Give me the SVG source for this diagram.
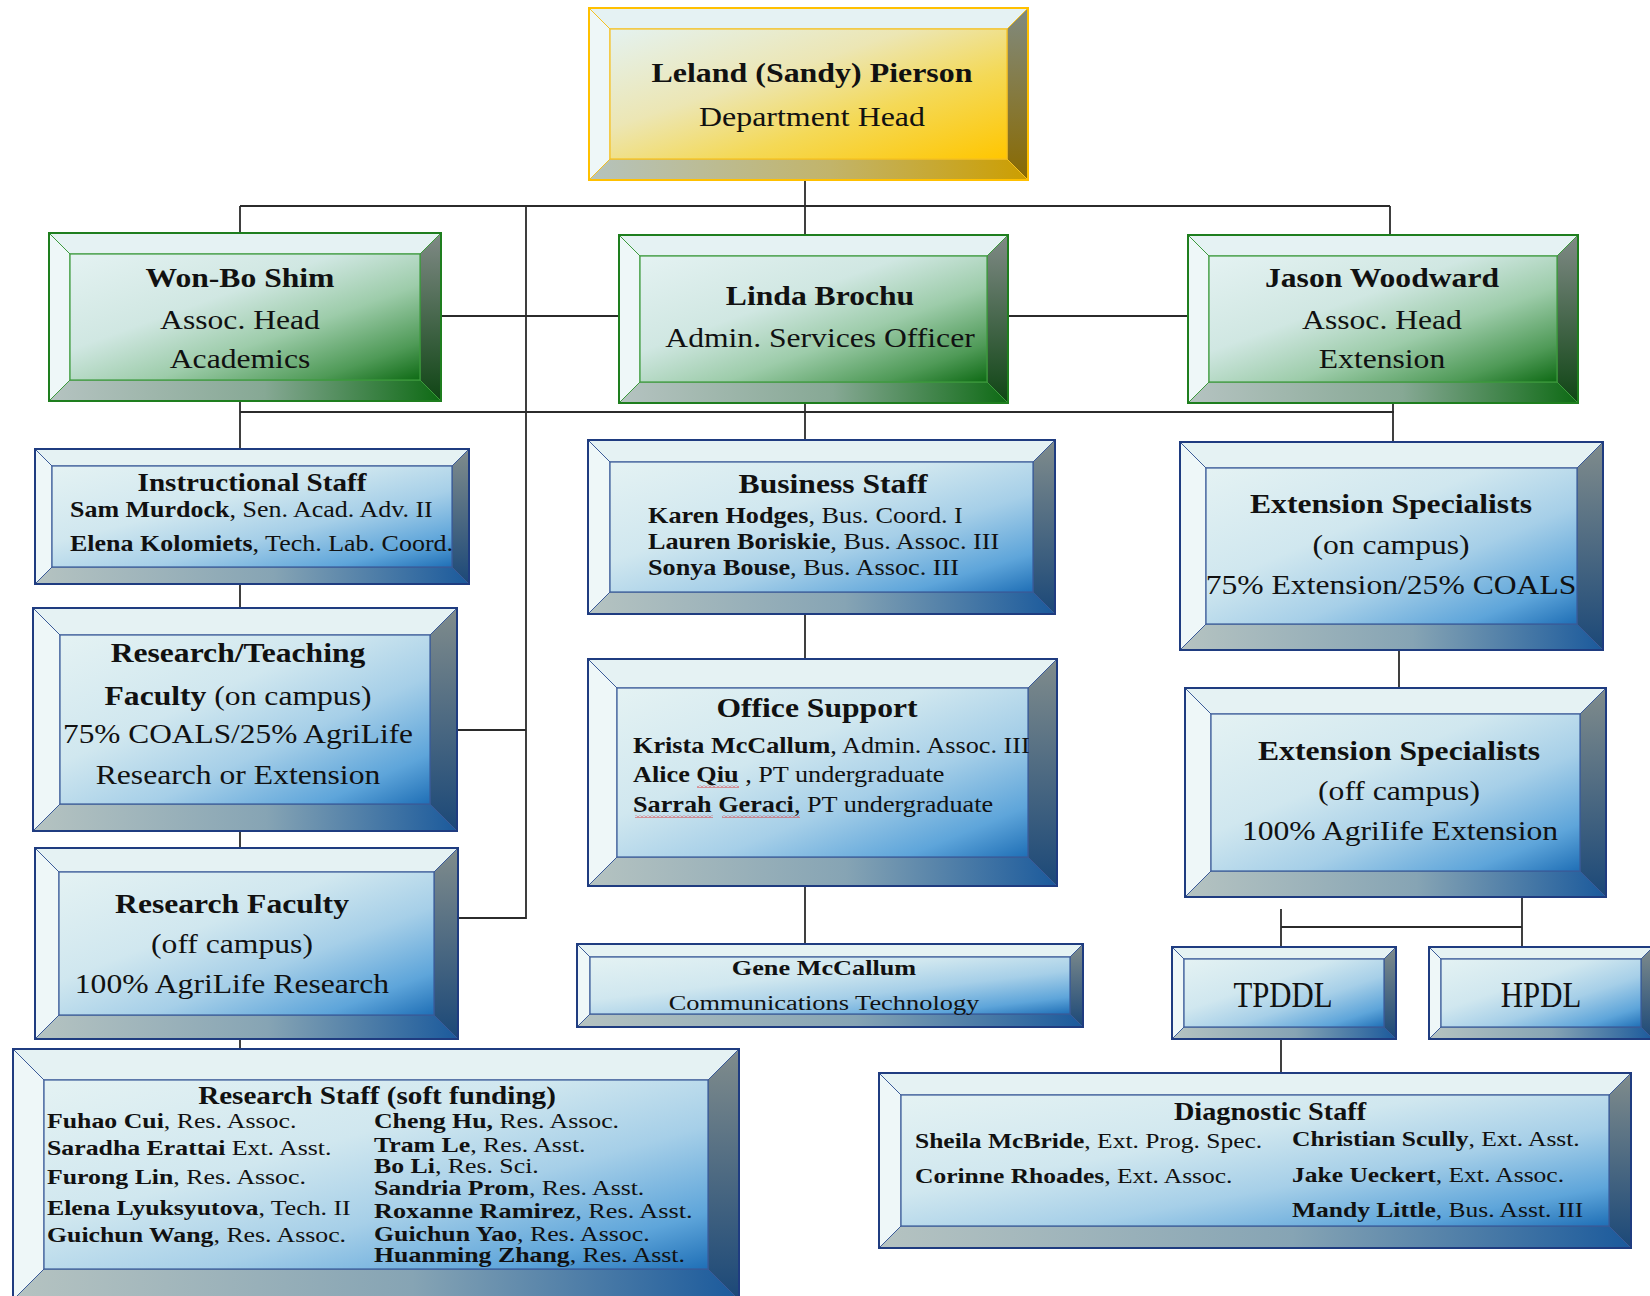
<svg xmlns="http://www.w3.org/2000/svg" width="1650" height="1296" viewBox="0 0 1650 1296">
<defs>
<linearGradient id="faceBlue" x1="0" y1="0" x2="1" y2="1">
<stop offset="0" stop-color="#E4F2F3"/><stop offset="0.38" stop-color="#D0E7EF"/><stop offset="0.62" stop-color="#A6CFE8"/><stop offset="0.85" stop-color="#5EA5DA"/><stop offset="1" stop-color="#1F6FB6"/>
</linearGradient>
<linearGradient id="faceGreen" x1="0" y1="0" x2="1" y2="1">
<stop offset="0" stop-color="#E4F2F2"/><stop offset="0.38" stop-color="#D0E7E2"/><stop offset="0.62" stop-color="#9DCCAA"/><stop offset="0.85" stop-color="#4F9A57"/><stop offset="1" stop-color="#0E6A14"/>
</linearGradient>
<linearGradient id="faceGold" x1="0" y1="0" x2="1" y2="1">
<stop offset="0" stop-color="#E4F2F0"/><stop offset="0.38" stop-color="#ECE6B4"/><stop offset="0.65" stop-color="#F4D957"/><stop offset="1" stop-color="#FFC600"/>
</linearGradient>
<linearGradient id="rBlue" x1="0" y1="0" x2="0" y2="1"><stop offset="0" stop-color="#808C8C"/><stop offset="1" stop-color="#1B4878"/></linearGradient>
<linearGradient id="rGreen" x1="0" y1="0" x2="0" y2="1"><stop offset="0" stop-color="#808A86"/><stop offset="1" stop-color="#0F4514"/></linearGradient>
<linearGradient id="rGold" x1="0" y1="0" x2="0" y2="1"><stop offset="0" stop-color="#808A80"/><stop offset="1" stop-color="#8A6A00"/></linearGradient>
<linearGradient id="bBlue" x1="0" y1="0" x2="1" y2="0"><stop offset="0" stop-color="#B5C3C1"/><stop offset="0.55" stop-color="#86A4B4"/><stop offset="1" stop-color="#1B5A9C"/></linearGradient>
<linearGradient id="bGreen" x1="0" y1="0" x2="1" y2="0"><stop offset="0" stop-color="#B5C3C1"/><stop offset="0.55" stop-color="#86A894"/><stop offset="1" stop-color="#0E6A14"/></linearGradient>
<linearGradient id="bGold" x1="0" y1="0" x2="1" y2="0"><stop offset="0" stop-color="#B5C3BD"/><stop offset="0.55" stop-color="#C2B46A"/><stop offset="1" stop-color="#CC9E00"/></linearGradient>
<pattern id="squig" width="4" height="3" patternUnits="userSpaceOnUse"><path d="M0,2.5 L2,0.5 L4,2.5" fill="none" stroke="#E02828" stroke-width="0.9"/></pattern>
</defs>
<style>
.node .bt{fill:#E5F2F3}
.node .bl{fill:#EEF7F8}
.node polygon{stroke-width:1}
.node .edge{fill:none;stroke-width:2}
.node .face{stroke-width:1.2}
.blue polygon,.blue .face{stroke:#3A5A98}
.blue .edge{stroke:#1F3C80}
.blue .face{fill:url(#faceBlue)}
.blue .br{fill:url(#rBlue)}
.blue .bb{fill:url(#bBlue)}
.green polygon,.green .face{stroke:#3C9A3C}
.green .edge{stroke:#1E7E1E}
.green .face{fill:url(#faceGreen)}
.green .br{fill:url(#rGreen)}
.green .bb{fill:url(#bGreen)}
.gold polygon,.gold .face{stroke:#F5C020}
.gold .edge{stroke:#FFC000}
.gold .face{fill:url(#faceGold)}
.gold .br{fill:url(#rGold)}
.gold .bb{fill:url(#bGold)}
text{font-family:"Liberation Serif","Times New Roman",serif;fill:#111}
.c{text-anchor:middle}
.b{font-weight:bold}
.f28{font-size:28px}
.f26{font-size:26px}
.f25{font-size:25px}
.f23{font-size:23px}
.f22{font-size:22px}
.f215{font-size:21.5px}
.f21{font-size:21px}
.f20{font-size:20px}
.f36{font-size:35px}
.conn path{fill:none;stroke:#2B2B2B;stroke-width:1.8}
</style>
<rect width="1650" height="1296" fill="#FFFFFF"/>

<g id="connectors" class="conn">
<path d="M805,180 V206"/>
<path d="M240,206 H1390"/>
<path d="M240,206 V233"/>
<path d="M805,206 V235"/>
<path d="M1390,206 V235"/>
<path d="M526,206 V918 H458"/>
<path d="M457,730 H526"/>
<path d="M441,316 H619"/>
<path d="M1008,316 H1188"/>
<path d="M240,401 V449"/>
<path d="M805,403 V440"/>
<path d="M1393,403 V442"/>
<path d="M240,412 H1394"/>
<path d="M240,584 V608"/>
<path d="M240,831 V848"/>
<path d="M240,1039 V1049"/>
<path d="M805,614 V659"/>
<path d="M805,886 V944"/>
<path d="M1399,650 V688"/>
<path d="M1522,897 V947"/>
<path d="M1281,909 V947"/>
<path d="M1281,927 H1522"/>
<path d="M1281,1039 V1073"/>
</g>

<g id="n-pierson" class="node gold">
<polygon class="bt" points="589,8 1028,8 1007,29 610,29"/>
<polygon class="bl" points="589,8 610,29 610,159 589,180"/>
<polygon class="br" points="1028,8 1028,180 1007,159 1007,29"/>
<polygon class="bb" points="589,180 610,159 1007,159 1028,180"/>
<rect class="face" x="610" y="29" width="397" height="130"/>
<rect class="edge" x="589" y="8" width="439" height="172"/>
<text class="c b f28" transform="translate(812 82) scale(1.14 1)">Leland (Sandy) Pierson</text>
<text class="c f28" transform="translate(812 126) scale(1.14 1)">Department Head</text>
</g>

<g id="n-shim" class="node green">
<polygon class="bt" points="49,233 441,233 420,254 70,254"/>
<polygon class="bl" points="49,233 70,254 70,380 49,401"/>
<polygon class="br" points="441,233 441,401 420,380 420,254"/>
<polygon class="bb" points="49,401 70,380 420,380 441,401"/>
<rect class="face" x="70" y="254" width="350" height="126"/>
<rect class="edge" x="49" y="233" width="392" height="168"/>
<text class="c b f28" transform="translate(240 287) scale(1.13 1)">Won-Bo Shim</text>
<text class="c f28" transform="translate(240 329) scale(1.13 1)">Assoc. Head</text>
<text class="c f28" transform="translate(240 368) scale(1.13 1)">Academics</text>
</g>

<g id="n-brochu" class="node green">
<polygon class="bt" points="619,235 1008,235 987,256 640,256"/>
<polygon class="bl" points="619,235 640,256 640,382 619,403"/>
<polygon class="br" points="1008,235 1008,403 987,382 987,256"/>
<polygon class="bb" points="619,403 640,382 987,382 1008,403"/>
<rect class="face" x="640" y="256" width="347" height="126"/>
<rect class="edge" x="619" y="235" width="389" height="168"/>
<text class="c b f28" transform="translate(820 305) scale(1.13 1)">Linda Brochu</text>
<text class="c f28" transform="translate(820 347) scale(1.13 1)">Admin. Services Officer</text>
</g>

<g id="n-woodward" class="node green">
<polygon class="bt" points="1188,235 1578,235 1557,256 1209,256"/>
<polygon class="bl" points="1188,235 1209,256 1209,382 1188,403"/>
<polygon class="br" points="1578,235 1578,403 1557,382 1557,256"/>
<polygon class="bb" points="1188,403 1209,382 1557,382 1578,403"/>
<rect class="face" x="1209" y="256" width="348" height="126"/>
<rect class="edge" x="1188" y="235" width="390" height="168"/>
<text class="c b f28" transform="translate(1382 287) scale(1.13 1)">Jason Woodward</text>
<text class="c f28" transform="translate(1382 329) scale(1.13 1)">Assoc. Head</text>
<text class="c f28" transform="translate(1382 368) scale(1.13 1)">Extension</text>
</g>

<g id="n-instructional" class="node blue">
<polygon class="bt" points="35,449 469,449 452,466 52,466"/>
<polygon class="bl" points="35,449 52,466 52,567 35,584"/>
<polygon class="br" points="469,449 469,584 452,567 452,466"/>
<polygon class="bb" points="35,584 52,567 452,567 469,584"/>
<rect class="face" x="52" y="466" width="400" height="101"/>
<rect class="edge" x="35" y="449" width="434" height="135"/>
<text class="c b f26" transform="translate(252 491) scale(1.12 1)">Instructional Staff</text>
<text class="f23" transform="translate(70 517) scale(1.13 1)"><tspan class="b">Sam Murdock</tspan>, Sen. Acad. Adv. II</text>
<text class="f23" transform="translate(70 551) scale(1.13 1)"><tspan class="b">Elena Kolomiets</tspan>, Tech. Lab. Coord.</text>
</g>

<g id="n-research-teaching" class="node blue">
<polygon class="bt" points="33,608 457,608 430,635 60,635"/>
<polygon class="bl" points="33,608 60,635 60,804 33,831"/>
<polygon class="br" points="457,608 457,831 430,804 430,635"/>
<polygon class="bb" points="33,831 60,804 430,804 457,831"/>
<rect class="face" x="60" y="635" width="370" height="169"/>
<rect class="edge" x="33" y="608" width="424" height="223"/>
<text class="c b f28" transform="translate(238 662) scale(1.13 1)">Research/Teaching</text>
<text class="c f28" transform="translate(238 705) scale(1.13 1)"><tspan class="b">Faculty</tspan> (on campus)</text>
<text class="c f28" transform="translate(238 743) scale(1.12 1)">75% COALS/25% AgriLife</text>
<text class="c f28" transform="translate(238 784) scale(1.13 1)">Research or Extension</text>
</g>

<g id="n-research-faculty" class="node blue">
<polygon class="bt" points="35,848 458,848 434,872 59,872"/>
<polygon class="bl" points="35,848 59,872 59,1015 35,1039"/>
<polygon class="br" points="458,848 458,1039 434,1015 434,872"/>
<polygon class="bb" points="35,1039 59,1015 434,1015 458,1039"/>
<rect class="face" x="59" y="872" width="375" height="143"/>
<rect class="edge" x="35" y="848" width="423" height="191"/>
<text class="c b f28" transform="translate(232 913) scale(1.13 1)">Research Faculty</text>
<text class="c f28" transform="translate(232 953) scale(1.13 1)">(off campus)</text>
<text class="c f28" transform="translate(232 993) scale(1.13 1)">100% AgriLife Research</text>
</g>

<g id="n-research-staff" class="node blue">
<polygon class="bt" points="13,1049 739,1049 708,1080 44,1080"/>
<polygon class="bl" points="13,1049 44,1080 44,1269 13,1300"/>
<polygon class="br" points="739,1049 739,1300 708,1269 708,1080"/>
<polygon class="bb" points="13,1300 44,1269 708,1269 739,1300"/>
<rect class="face" x="44" y="1080" width="664" height="189"/>
<rect class="edge" x="13" y="1049" width="726" height="251"/>
<text class="c b f26" transform="translate(377 1104) scale(1.12 1)">Research Staff (soft funding)</text>
<text class="f215" transform="translate(47 1128) scale(1.2 1)"><tspan class="b">Fuhao Cui</tspan>, Res. Assoc.</text>
<text class="f215" transform="translate(47 1155) scale(1.2 1)"><tspan class="b">Saradha Erattai</tspan> Ext. Asst.</text>
<text class="f215" transform="translate(47 1184) scale(1.2 1)"><tspan class="b">Furong Lin</tspan>, Res. Assoc.</text>
<text class="f215" transform="translate(47 1215) scale(1.2 1)"><tspan class="b">Elena Lyuksyutova</tspan>, Tech. II</text>
<text class="f215" transform="translate(47 1242) scale(1.2 1)"><tspan class="b">Guichun Wang</tspan>, Res. Assoc.</text>
<text class="f215" transform="translate(374 1128) scale(1.2 1)"><tspan class="b">Cheng Hu,</tspan> Res. Assoc.</text>
<text class="f215" transform="translate(374 1152) scale(1.2 1)"><tspan class="b">Tram Le</tspan>, Res. Asst.</text>
<text class="f215" transform="translate(374 1173) scale(1.2 1)"><tspan class="b">Bo Li</tspan>, Res. Sci.</text>
<text class="f215" transform="translate(374 1195) scale(1.2 1)"><tspan class="b">Sandria Prom</tspan>, Res. Asst.</text>
<text class="f215" transform="translate(374 1218) scale(1.22 1)"><tspan class="b">Roxanne Ramirez</tspan>, Res. Asst.</text>
<text class="f215" transform="translate(374 1241) scale(1.2 1)"><tspan class="b">Guichun Yao</tspan>, Res. Assoc.</text>
<text class="f215" transform="translate(374 1262) scale(1.2 1)"><tspan class="b">Huanming Zhang</tspan>, Res. Asst.</text>
</g>

<g id="n-business" class="node blue">
<polygon class="bt" points="588,440 1055,440 1033,462 610,462"/>
<polygon class="bl" points="588,440 610,462 610,592 588,614"/>
<polygon class="br" points="1055,440 1055,614 1033,592 1033,462"/>
<polygon class="bb" points="588,614 610,592 1033,592 1055,614"/>
<rect class="face" x="610" y="462" width="423" height="130"/>
<rect class="edge" x="588" y="440" width="467" height="174"/>
<text class="c b f28" transform="translate(833 493) scale(1.13 1)">Business Staff</text>
<text class="f23" transform="translate(648 523) scale(1.14 1)"><tspan class="b">Karen Hodges</tspan>, Bus. Coord. I</text>
<text class="f23" transform="translate(648 549) scale(1.14 1)"><tspan class="b">Lauren Boriskie</tspan>, Bus. Assoc. III</text>
<text class="f23" transform="translate(648 575) scale(1.14 1)"><tspan class="b">Sonya Bouse</tspan>, Bus. Assoc. III</text>
</g>

<g id="n-office" class="node blue">
<polygon class="bt" points="588,659 1057,659 1028,688 617,688"/>
<polygon class="bl" points="588,659 617,688 617,857 588,886"/>
<polygon class="br" points="1057,659 1057,886 1028,857 1028,688"/>
<polygon class="bb" points="588,886 617,857 1028,857 1057,886"/>
<rect class="face" x="617" y="688" width="411" height="169"/>
<rect class="edge" x="588" y="659" width="469" height="227"/>
<text class="c b f28" transform="translate(817 717) scale(1.13 1)">Office Support</text>
<text class="f23" transform="translate(633 753) scale(1.14 1)"><tspan class="b">Krista McCallum</tspan>, Admin. Assoc. III</text>
<text class="f23" transform="translate(633 782) scale(1.14 1)"><tspan class="b">Alice Qiu</tspan> , PT undergraduate</text>
<text class="f23" transform="translate(633 812) scale(1.14 1)"><tspan class="b">Sarrah Geraci</tspan>, PT undergraduate</text>
<rect x="697" y="785" width="42" height="3" fill="url(#squig)"/>
<rect x="635" y="815" width="78" height="3" fill="url(#squig)"/>
<rect x="722" y="815" width="78" height="3" fill="url(#squig)"/>
</g>

<g id="n-gene" class="node blue">
<polygon class="bt" points="577,944 1083,944 1070,957 590,957"/>
<polygon class="bl" points="577,944 590,957 590,1014 577,1027"/>
<polygon class="br" points="1083,944 1083,1027 1070,1014 1070,957"/>
<polygon class="bb" points="577,1027 590,1014 1070,1014 1083,1027"/>
<rect class="face" x="590" y="957" width="480" height="57"/>
<rect class="edge" x="577" y="944" width="506" height="83"/>
<text class="c b f21" transform="translate(824 975) scale(1.25 1)">Gene McCallum</text>
<text class="c f20" transform="translate(824 1010) scale(1.32 1)">Communications Technology</text>
</g>

<g id="n-ext-on" class="node blue">
<polygon class="bt" points="1180,442 1603,442 1577,468 1206,468"/>
<polygon class="bl" points="1180,442 1206,468 1206,624 1180,650"/>
<polygon class="br" points="1603,442 1603,650 1577,624 1577,468"/>
<polygon class="bb" points="1180,650 1206,624 1577,624 1603,650"/>
<rect class="face" x="1206" y="468" width="371" height="156"/>
<rect class="edge" x="1180" y="442" width="423" height="208"/>
<text class="c b f28" transform="translate(1391 513) scale(1.13 1)">Extension Specialists</text>
<text class="c f28" transform="translate(1391 554) scale(1.13 1)">(on campus)</text>
<text class="c f28" transform="translate(1391 594) scale(1.13 1)">75% Extension/25% COALS</text>
</g>

<g id="n-ext-off" class="node blue">
<polygon class="bt" points="1185,688 1606,688 1580,714 1211,714"/>
<polygon class="bl" points="1185,688 1211,714 1211,871 1185,897"/>
<polygon class="br" points="1606,688 1606,897 1580,871 1580,714"/>
<polygon class="bb" points="1185,897 1211,871 1580,871 1606,897"/>
<rect class="face" x="1211" y="714" width="369" height="157"/>
<rect class="edge" x="1185" y="688" width="421" height="209"/>
<text class="c b f28" transform="translate(1399 760) scale(1.13 1)">Extension Specialists</text>
<text class="c f28" transform="translate(1399 800) scale(1.13 1)">(off campus)</text>
<text class="c f28" transform="translate(1400 840) scale(1.13 1)">100% AgriIife Extension</text>
</g>

<g id="n-tpddl" class="node blue">
<polygon class="bt" points="1172,947 1396,947 1384,959 1184,959"/>
<polygon class="bl" points="1172,947 1184,959 1184,1027 1172,1039"/>
<polygon class="br" points="1396,947 1396,1039 1384,1027 1384,959"/>
<polygon class="bb" points="1172,1039 1184,1027 1384,1027 1396,1039"/>
<rect class="face" x="1184" y="959" width="200" height="68"/>
<rect class="edge" x="1172" y="947" width="224" height="92"/>
<text class="c f36" transform="translate(1283 1007) scale(0.88 1)">TPDDL</text>
</g>

<g id="n-hpdl" class="node blue">
<polygon class="bt" points="1429,947 1653,947 1641,959 1441,959"/>
<polygon class="bl" points="1429,947 1441,959 1441,1027 1429,1039"/>
<polygon class="br" points="1653,947 1653,1039 1641,1027 1641,959"/>
<polygon class="bb" points="1429,1039 1441,1027 1641,1027 1653,1039"/>
<rect class="face" x="1441" y="959" width="200" height="68"/>
<rect class="edge" x="1429" y="947" width="224" height="92"/>
<text class="c f36" transform="translate(1541 1007) scale(0.88 1)">HPDL</text>
</g>

<g id="n-diagnostic" class="node blue">
<polygon class="bt" points="879,1073 1631,1073 1609,1095 901,1095"/>
<polygon class="bl" points="879,1073 901,1095 901,1226 879,1248"/>
<polygon class="br" points="1631,1073 1631,1248 1609,1226 1609,1095"/>
<polygon class="bb" points="879,1248 901,1226 1609,1226 1631,1248"/>
<rect class="face" x="901" y="1095" width="708" height="131"/>
<rect class="edge" x="879" y="1073" width="752" height="175"/>
<text class="c b f25" transform="translate(1270 1120) scale(1.13 1)">Diagnostic Staff</text>
<text class="f22" transform="translate(915 1148) scale(1.16 1)"><tspan class="b">Sheila McBride</tspan>, Ext. Prog. Spec.</text>
<text class="f22" transform="translate(915 1183) scale(1.16 1)"><tspan class="b">Corinne Rhoades</tspan>, Ext. Assoc.</text>
<text class="f22" transform="translate(1292 1146) scale(1.16 1)"><tspan class="b">Christian Scully</tspan>, Ext. Asst.</text>
<text class="f22" transform="translate(1292 1182) scale(1.16 1)"><tspan class="b">Jake Ueckert</tspan>, Ext. Assoc.</text>
<text class="f22" transform="translate(1292 1217) scale(1.16 1)"><tspan class="b">Mandy Little</tspan>, Bus. Asst. III</text>
</g>
</svg>
